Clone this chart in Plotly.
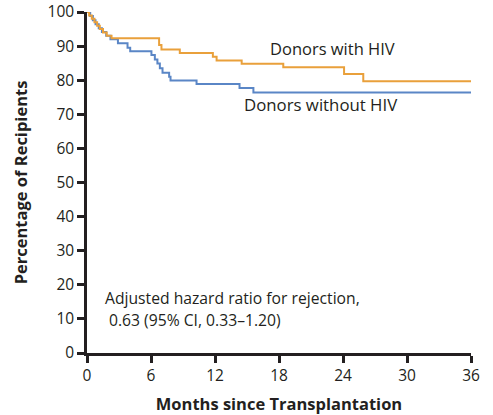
import plotly.graph_objects as go

# Data: Kaplan-Meier step curves (months, percentage)
with_hiv_t = [0, 0.2, 0.45, 0.7, 0.95, 1.2, 1.5, 1.85, 2.3, 6.76, 6.98, 8.7, 11.8, 12.15, 14.5, 18.4, 24.1, 25.9, 36]
with_hiv_v = [100, 99, 98, 97, 96, 95, 94, 93, 92.3, 90.3, 89.0, 88.0, 86.9, 85.8, 84.8, 83.8, 81.8, 79.7, 79.7]

without_hiv_t = [0, 0.3, 0.55, 0.8, 1.1, 1.4, 1.8, 2.2, 2.9, 3.8, 4.05, 6.04, 6.36, 6.6, 6.83, 7.08, 7.7, 7.83, 10.27, 14.3, 15.6, 36]
without_hiv_v = [100, 98.8, 97.6, 96.4, 95.2, 94.1, 93.0, 92.0, 90.8, 89.5, 88.5, 87.4, 86.1, 84.9, 83.5, 82.2, 81.0, 79.9, 78.9, 77.7, 76.4, 76.4]

x_ticks = [0, 6, 12, 18, 24, 30, 36]
y_ticks = [0, 10, 20, 30, 40, 50, 60, 70, 80, 90, 100]

ORANGE = "#E9A03B"
BLUE = "#5A86C6"
INK = "#231F20"
FONT = "Open Sans"

fig = go.Figure()
fig.add_trace(go.Scatter(x=without_hiv_t, y=without_hiv_v, mode="lines",
                         line=dict(shape="hv", color=BLUE, width=2), name="Donors without HIV"))
fig.add_trace(go.Scatter(x=with_hiv_t, y=with_hiv_v, mode="lines",
                         line=dict(shape="hv", color=ORANGE, width=2), name="Donors with HIV"))

fig.add_annotation(x=23.0, y=89.3, text="Donors with HIV", showarrow=False,
                   font=dict(family=FONT, size=16.5, color=INK))
fig.add_annotation(x=21.9, y=73.0, text="Donors without HIV", showarrow=False,
                   font=dict(family=FONT, size=16.8, color=INK))
fig.add_annotation(x=1.47, y=16.1, text="Adjusted hazard ratio for rejection,", showarrow=False,
                   xanchor="left", font=dict(family=FONT, size=15.7, color=INK))
fig.add_annotation(x=1.85, y=9.6, text="0.63 (95% CI, 0.33\u20131.20)", showarrow=False,
                   xanchor="left", font=dict(family=FONT, size=15.7, color=INK))

fig.update_layout(
    width=493, height=415,
    margin=dict(l=87, r=22, t=12, b=62, autoexpand=False),
    paper_bgcolor="white", plot_bgcolor="white",
    showlegend=False,
    font=dict(family=FONT, color=INK),
)
fig.update_xaxes(range=[0, 36], tickvals=x_ticks, showgrid=False, zeroline=False,
                 automargin=False,
                 showline=True, linecolor=INK, linewidth=2.5,
                 ticks="outside", ticklen=7, tickwidth=2.5, tickcolor=INK,
                 tickfont=dict(family=FONT, size=15.5, color=INK),
                 title=dict(text="<b>Months since Transplantation</b>", standoff=15,
                            font=dict(family=FONT, size=16.5, color=INK)))
fig.update_yaxes(range=[0, 100], tickvals=y_ticks, showgrid=False, zeroline=False,
                 automargin=False,
                 showline=True, linecolor=INK, linewidth=2.5,
                 ticks="outside", ticklen=7, tickwidth=2.5, tickcolor=INK,
                 tickfont=dict(family=FONT, size=15.5, color=INK),
                 title=dict(text="<b>Percentage of Recipients</b>", standoff=16,
                            font=dict(family=FONT, size=16.5, color=INK)))

fig.write_html("out.html", config={"displayModeBar": False},
               post_script="document.body.style.margin='0';")
